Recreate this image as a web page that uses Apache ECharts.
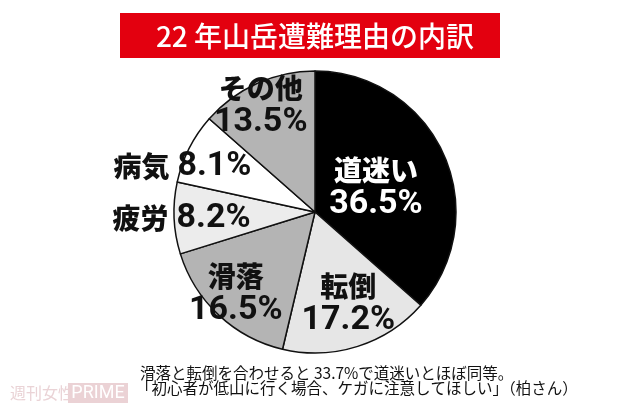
<!DOCTYPE html>
<html>
<head>
<meta charset="utf-8">
<script src="https://cdn.jsdelivr.net/npm/echarts@6/dist/echarts.min.js"></script>
<style>html,body{margin:0;padding:0;background:#fff}#c{width:620px;height:413px}</style>
</head>
<body>
<div id="c"></div>
<script>
const titleText = '22 年山岳遭難理由の内訳';
const categories = ['道迷い', '転倒', '滑落', '疲労', '病気', 'その他'];
const values = [36.5, 17.2, 16.5, 8.2, 8.1, 13.5];
const sliceColors = ['#000000', '#e6e6e6', '#b4b4b4', '#ececec', '#ffffff', '#b4b4b4'];
const labelColors = ['#ffffff', '#111111', '#111111', '#111111', '#111111', '#111111'];
const oneLine = [false, false, false, true, true, false];
const labelOffsets = [[-6, 6], [11, 21], [-29, 28], [-60, 3], [-67, -12], [-24, -40]];
const noteLines = ['滑落と転倒を合わせると 33.7%で道迷いとほぼ同等。', '「初心者が低山に行く場合、ケガに注意してほしい」（柏さん）'];

const numFont = 'Roboto, "Noto Sans CJK JP", sans-serif';
const jpFont = '"Noto Sans CJK JP", sans-serif';

const chart = echarts.init(document.getElementById('c'), null, {renderer: 'canvas'});
const data = categories.map((name, i) => ({
  name: name,
  value: values[i],
  itemStyle: {color: sliceColors[i]},
  label: {
    formatter: oneLine[i] ? '{n|{b}}{s|}{v|{c}%}' : '{n|{b}}\n{v|{c}%}',
    rich: {
      n: {fontFamily: jpFont, fontWeight: 900, fontSize: 28, lineHeight: 34, color: labelColors[i]},
      s: {width: 8},
      v: {fontFamily: numFont, fontWeight: 'bold', fontSize: 34, lineHeight: 34, color: labelColors[i]}
    }
  }
}));

chart.setOption({
  animation: false,
  backgroundColor: '#ffffff',
  graphic: [
    {type: 'rect', shape: {x: 120, y: 13, width: 380, height: 45}, style: {fill: '#e3000f'}},
    {type: 'text', x: 315, y: 36, style: {text: titleText, fill: '#ffffff', font: '500 28px "Noto Sans CJK JP", sans-serif', textAlign: 'center', textVerticalAlign: 'middle'}},
    {type: 'text', x: 140, y: 373, style: {text: noteLines[0], fill: '#111111', font: '15.5px "Noto Sans CJK JP", sans-serif', textVerticalAlign: 'middle'}},
    {type: 'text', x: 136, y: 388, style: {text: noteLines[1], fill: '#111111', font: '15.5px "Noto Sans CJK JP", sans-serif', textVerticalAlign: 'middle'}},
    {type: 'text', x: 10, y: 393, style: {text: '週刊女性', fill: '#ead3d6', font: '16px "Noto Sans CJK JP", sans-serif', textVerticalAlign: 'middle'}},
    {type: 'rect', shape: {x: 68, y: 383, width: 60, height: 20}, style: {fill: '#ebd2d5'}},
    {type: 'text', x: 98, y: 393, style: {text: 'PRIME', fill: '#ffffff', font: '18px "Roboto", sans-serif', textAlign: 'center', textVerticalAlign: 'middle'}}
  ],
  series: [{
    type: 'pie',
    center: [315, 212],
    radius: 141,
    startAngle: 90,
    clockwise: true,
    silent: true,
    itemStyle: {borderColor: '#111111', borderWidth: 1.5},
    label: {show: true, position: 'inside', align: 'center'},
    labelLine: {show: false},
    labelLayout: function (p) {
      const o = labelOffsets[p.dataIndex];
      return {dx: o[0], dy: o[1]};
    },
    data: data
  }]
});
</script>
</body>
</html>
